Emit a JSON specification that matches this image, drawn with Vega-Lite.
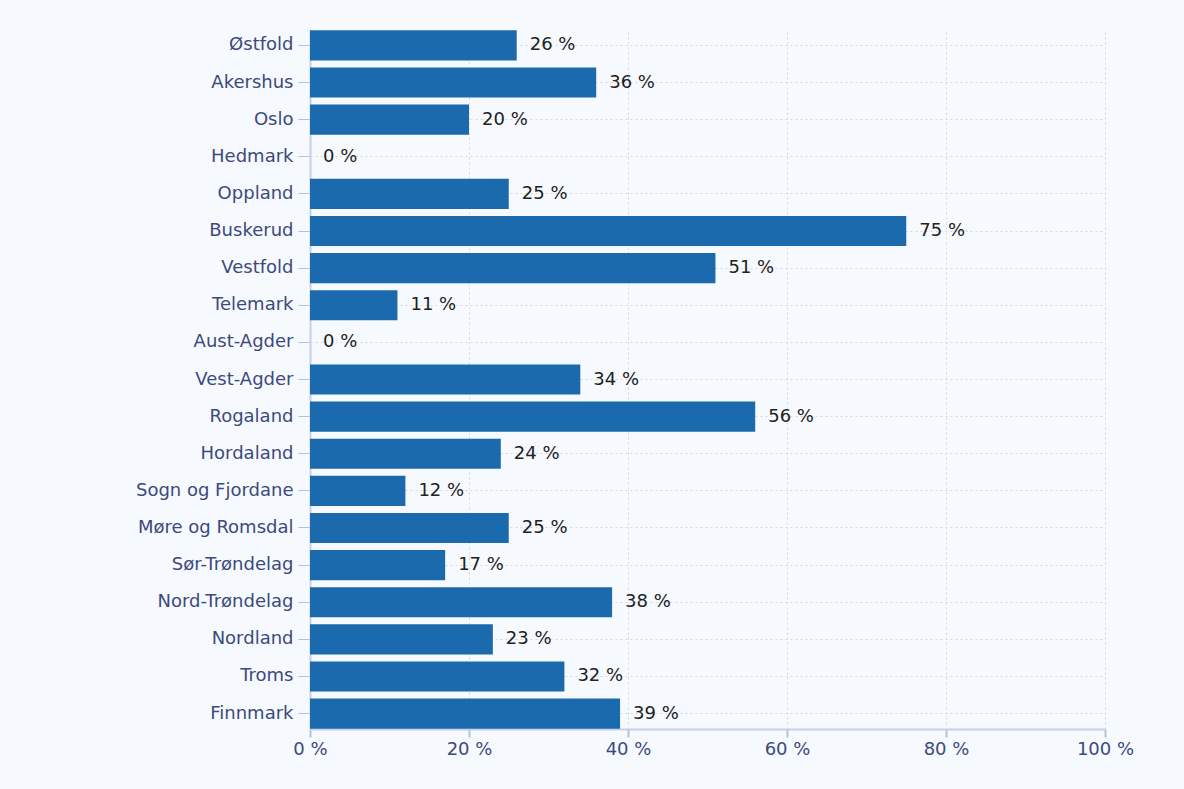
{
  "$schema": "https://vega.github.io/schema/vega-lite/v6.json",
  "autosize": "none",
  "width": 795,
  "height": 699,
  "padding": {"left": 310, "top": 30, "right": 79, "bottom": 60},
  "background": "#f6f9fe",
  "config": {
    "view": {"stroke": null},
    "font": "DejaVu Sans"
  },
  "data": {
    "values": [
      {"fylke": "Østfold", "andel": 26},
      {"fylke": "Akershus", "andel": 36},
      {"fylke": "Oslo", "andel": 20},
      {"fylke": "Hedmark", "andel": 0},
      {"fylke": "Oppland", "andel": 25},
      {"fylke": "Buskerud", "andel": 75},
      {"fylke": "Vestfold", "andel": 51},
      {"fylke": "Telemark", "andel": 11},
      {"fylke": "Aust-Agder", "andel": 0},
      {"fylke": "Vest-Agder", "andel": 34},
      {"fylke": "Rogaland", "andel": 56},
      {"fylke": "Hordaland", "andel": 24},
      {"fylke": "Sogn og Fjordane", "andel": 12},
      {"fylke": "Møre og Romsdal", "andel": 25},
      {"fylke": "Sør-Trøndelag", "andel": 17},
      {"fylke": "Nord-Trøndelag", "andel": 38},
      {"fylke": "Nordland", "andel": 23},
      {"fylke": "Troms", "andel": 32},
      {"fylke": "Finnmark", "andel": 39}
    ]
  },
  "encoding": {
    "y": {
      "field": "fylke",
      "type": "nominal",
      "sort": null,
      "scale": {"paddingInner": 0.19, "paddingOuter": 0.01},
      "axis": {
        "title": null,
        "bandPosition": 0.5,
        "grid": true,
        "gridColor": "#d4d7dc",
        "gridDash": [2, 3],
        "gridWidth": 1,
        "domainColor": "#c4d0e8",
        "domainWidth": 2,
        "ticks": true,
        "tickColor": "#b4c2dc",
        "tickSize": 12,
        "tickWidth": 1,
        "labelPadding": 5,
        "labelFont": "DejaVu Sans",
        "labelFontSize": 18,
        "labelColor": "#3d4a7c"
      }
    },
    "x": {
      "field": "andel",
      "type": "quantitative",
      "scale": {"domain": [0, 100], "nice": false},
      "axis": {
        "title": null,
        "values": [0, 20, 40, 60, 80, 100],
        "labelExpr": "datum.value + ' %'",
        "grid": true,
        "gridColor": "#d4d7dc",
        "gridDash": [2, 3],
        "gridWidth": 1,
        "domainColor": "#c4d0e8",
        "domainWidth": 2,
        "tickColor": "#b4c2dc",
        "tickSize": 8,
        "tickWidth": 2,
        "labelPadding": 3,
        "labelFont": "DejaVu Sans",
        "labelFontSize": 18,
        "labelColor": "#3d4a7c",
        "labelFlush": false
      }
    }
  },
  "layer": [
    {
      "mark": {"type": "bar", "color": "#1b6aad"}
    },
    {
      "mark": {"type": "text", "align": "left", "baseline": "middle", "dx": 13, "font": "DejaVu Sans", "fontSize": 18, "color": "#222222", "text": {"expr": "datum.andel + ' %'"}}
    }
  ]
}
